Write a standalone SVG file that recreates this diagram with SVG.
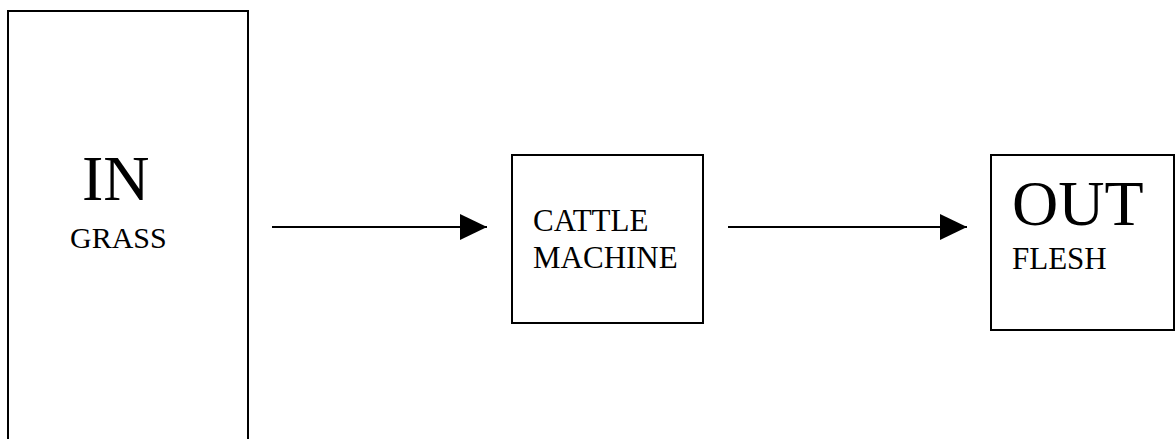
<svg xmlns="http://www.w3.org/2000/svg" width="1176" height="439" viewBox="0 0 1176 439">
<style>
.box{fill:#fff;stroke:#000;stroke-width:2}
.big{font-family:"Liberation Serif","Times New Roman",serif;font-size:64px;fill:#000}
.small{font-family:"Liberation Serif","Times New Roman",serif;font-size:31px;fill:#000}
.conn{stroke:#000;stroke-width:2;fill:none}
</style>
<defs>
<marker id="arrow" markerUnits="userSpaceOnUse" markerWidth="28" markerHeight="28" refX="27" refY="13" orient="auto">
<path d="M0,0 L27,13 L0,26 Z" fill="#000"/>
</marker>
</defs>
<rect width="1176" height="439" fill="#fff"/>
<g id="node-in">
<rect class="box" x="8" y="11" width="240" height="440"/>
<text class="big" x="82" y="200">IN</text>
<text class="small" x="70" y="248" style="font-size:30px">GRASS</text>
</g>
<g id="node-cattle">
<rect class="box" x="512" y="155" width="191" height="168"/>
<text class="small" x="533" y="231">CATTLE</text>
<text class="small" x="533" y="268">MACHINE</text>
</g>
<g id="node-out">
<rect class="box" x="991" y="155" width="183" height="175"/>
<text class="big" x="1012" y="225">OUT</text>
<text class="small" x="1012" y="269">FLESH</text>
</g>
<g id="connectors">
<line class="conn" x1="272" y1="227" x2="487" y2="227" marker-end="url(#arrow)"/>
<line class="conn" x1="728" y1="227" x2="967" y2="227" marker-end="url(#arrow)"/>
</g>
</svg>
